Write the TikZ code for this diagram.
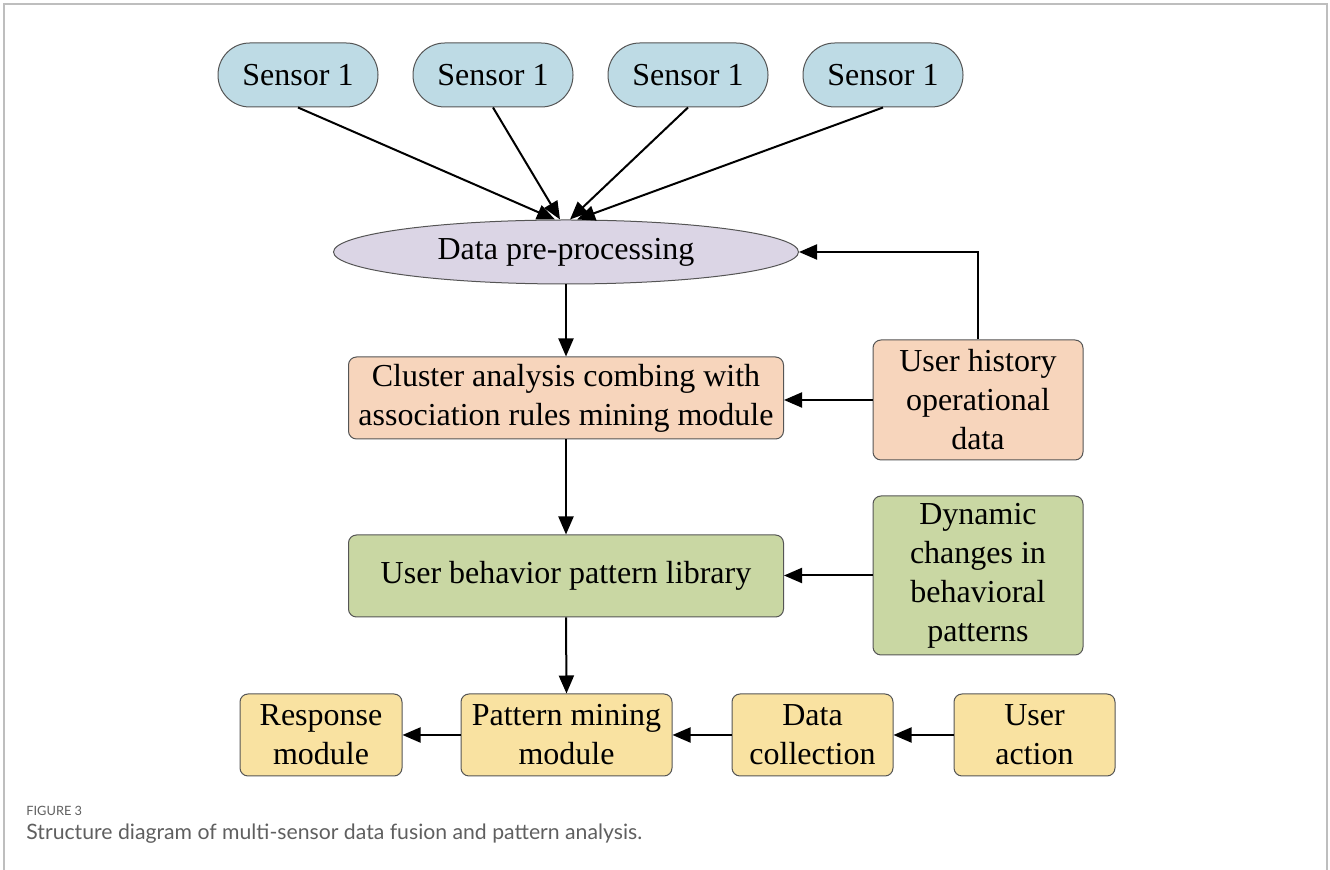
\documentclass[tikz,border=0pt]{standalone}
\usepackage{fontspec}
\setmainfont{Liberation Serif}
\newfontfamily\captionfont{Lato}
\usetikzlibrary{positioning}
\usetikzlibrary{arrows.meta}
\usetikzlibrary{shapes.misc}
\usetikzlibrary{shapes.geometric}
\definecolor{sensorblue}{RGB}{190,219,229}
\definecolor{prelilac}{RGB}{219,213,229}
\definecolor{peach}{RGB}{247,213,188}
\definecolor{sage}{RGB}{201,215,163}
\definecolor{sand}{RGB}{249,226,161}
\definecolor{edgegray}{RGB}{85,85,85}
\definecolor{framegray}{RGB}{190,190,190}
\definecolor{captiongray}{RGB}{95,95,95}
\tikzset{
	every node/.style={align=center,font=\fontsize{16}{19.5}\selectfont},
	box/.style={draw=edgegray,line width=0.5pt,rounded corners=4pt,inner sep=1pt},
	sensorbox/.style={draw=edgegray,line width=0.5pt,rounded corners=15.9pt,fill=sensorblue,minimum width=80pt,minimum height=32pt},
	flow/.style={line width=1pt,-{Triangle[length=9pt,width=7.5pt]}},
	capnode/.style={anchor=base west,align=left,text=captiongray,inner sep=0pt},
}

\begin{document}
\begin{tikzpicture}[x=0.5pt,y=-0.5pt]
	\useasboundingbox (0,0) rectangle (1330,870);
	
	% frame.....................
	\draw [framegray, line width=1pt] (4,870) -- (4,4) -- (1327,4) -- (1327,870);
	
	% sensors...................
	\node [sensorbox] (s1) at (298,75) {Sensor 1};
	\node [sensorbox] (s2) at (493,75) {Sensor 1};
	\node [sensorbox] (s3) at (688,75) {Sensor 1};
	\node [sensorbox] (s4) at (883,75) {Sensor 1};
	
	% pre-processing............
	\node [ellipse, draw=edgegray, line width=0.5pt, fill=prelilac, minimum width=232.5pt, minimum height=32pt, inner sep=0pt] (prep) at (566,252) {Data pre-processing};
	
	% middle column.............
	\node [box, fill=peach, minimum width=217.5pt, minimum height=41pt] (clus) at (566,398) {Cluster analysis combing with\\association rules mining module};
	\node [box, fill=sage, minimum width=217.5pt, minimum height=41pt] (lib) at (566,576) {User behavior pattern library};
	
	% right column..............
	\node [box, fill=peach, minimum width=105pt, minimum height=60pt] (hist) at (978,400) {User history\\operational\\data};
	\node [box, fill=sage, minimum width=105pt, minimum height=79.5pt] (dyn) at (978,575.5) {Dynamic\\changes in\\behavioral\\patterns};
	
	% bottom row................
	\node [box, fill=sand, minimum width=81pt, minimum height=41pt] (resp) at (321,735) {Response\\module};
	\node [box, fill=sand, minimum width=105.5pt, minimum height=41pt] (mine) at (566.5,735) {Pattern mining\\module};
	\node [box, fill=sand, minimum width=80.5pt, minimum height=41pt] (coll) at (812.5,735) {Data\\collection};
	\node [box, fill=sand, minimum width=80.5pt, minimum height=41pt] (act) at (1034.5,735) {User\\action};
	
	% sensor arrows.............
	\draw [flow] (s1.south) -- ([xshift=-5.5pt]prep.north);
	\draw [flow] (s2.south) -- ([xshift=-3pt]prep.north);
	\draw [flow] (s3.south) -- ([xshift=2pt]prep.north);
	\draw [flow] (s4.south) -- ([xshift=5.5pt]prep.north);
	
	% main flow.................
	\draw [flow] (prep.south) -- (clus.north);
	\draw [flow] (clus.south) -- (lib.north);
	\draw [flow] (lib.south) -- (mine.north);
	
	% side inputs...............
	\draw [flow] (hist.north) |- (prep.east);
	\draw [flow] (hist.west) -- (hist.west -| clus.east);
	\draw [flow] (dyn.west) -- (dyn.west -| lib.east);
	
	% bottom flow...............
	\draw [flow] (act.west) -- (coll.east);
	\draw [flow] (coll.west) -- (mine.east);
	\draw [flow] (mine.west) -- (resp.east);
	
	% caption...................
	\node [capnode, font=\captionfont\fontsize{6.4}{7}\selectfont] (fig) at (26,816) {FIGURE 3};
	\node [capnode, font=\captionfont\fontsize{10.6}{12}\selectfont] (cap) at (26,840) {Structure diagram of multi-sensor data fusion and pattern analysis.};
\end{tikzpicture}
\end{document}
